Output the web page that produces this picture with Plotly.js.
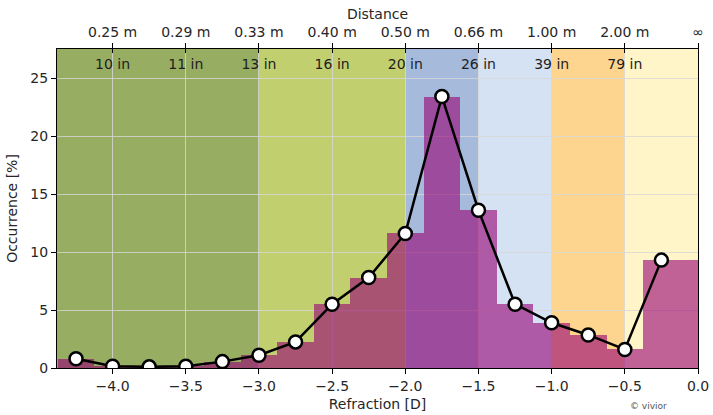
<!DOCTYPE html>
<html>
<head>
<meta charset="utf-8">
<script src="https://cdn.plot.ly/plotly-3.0.1.min.js"></script>
<style>html,body{margin:0;padding:0;background:#fff;}#chart{width:713px;height:415px;}</style>
</head>
<body>
<div id="chart"></div>
<script>
// Data
const refraction = [-4.25, -4.0, -3.75, -3.5, -3.25, -3.0, -2.75, -2.5, -2.25, -2.0, -1.75, -1.5, -1.25, -1.0, -0.75, -0.5, -0.25];
const occurrence = [0.8, 0.15, 0.1, 0.15, 0.55, 1.1, 2.25, 5.5, 7.8, 11.6, 23.4, 13.6, 5.5, 3.9, 2.85, 1.6, 9.3];
// histogram bars (last bin at 0.0 D, half visible)
const barRefraction = [-4.25, -4.0, -3.75, -3.5, -3.25, -3.0, -2.75, -2.5, -2.25, -2.0, -1.75, -1.5, -1.25, -1.0, -0.75, -0.5, -0.25, 0.0];
const barOccurrence = [0.8, 0.15, 0.1, 0.15, 0.55, 1.1, 2.25, 5.5, 7.8, 11.6, 23.4, 13.6, 5.5, 3.9, 2.85, 1.6, 9.3, 9.3];

const tickDiopters = [-4.0, -3.5, -3.0, -2.5, -2.0, -1.5, -1.0, -0.5, 0.0];
const distanceLabels = ['0.25 m', '0.29 m', '0.33 m', '0.40 m', '0.50 m', '0.66 m', '1.00 m', '2.00 m', '\u221e'];
const inchDiopters = [-4.0, -3.5, -3.0, -2.5, -2.0, -1.5, -1.0, -0.5];
const inchLabels = ['10 in', '11 in', '13 in', '16 in', '20 in', '26 in', '39 in', '79 in'];

// Background zones [from, to, colour]
const zoneStart = [-4.38, -3.0, -2.0, -1.5, -1.0, -0.5];
const zoneEnd   = [-3.0, -2.0, -1.5, -1.0, -0.5, 0.0];
const zoneColor = ['#96ad62', '#c1cf6f', '#a6bbdc', '#d4e2f4', '#fdd58f', '#fff5c9'];

const xRange = [-4.38, 0.0];
const font = {family: 'DejaVu Sans, sans-serif', size: 14, color: '#262626'};

const shapes = zoneStart.map((s, i) => ({
  type: 'rect', xref: 'x', yref: 'paper', x0: s, x1: zoneEnd[i], y0: 0, y1: 1,
  fillcolor: zoneColor[i], line: {width: 0}, layer: 'below'
}));

const traces = [
  {
    type: 'bar', x: barRefraction, y: barOccurrence, width: 0.25,
    marker: {color: 'rgba(150,0,115,0.6)', line: {width: 0}},
    hoverinfo: 'skip', showlegend: false
  },
  {
    type: 'scatter', mode: 'lines+markers', x: refraction, y: occurrence,
    line: {color: '#000', width: 2.5},
    marker: {symbol: 'circle', size: 13, color: '#fff', line: {color: '#000', width: 2.5}},
    showlegend: false
  },
  {type: 'scatter', x: tickDiopters, y: tickDiopters.map(() => null), xaxis: 'x2', hoverinfo: 'skip', showlegend: false},
  {type: 'scatter', x: inchDiopters, y: inchDiopters.map(() => null), xaxis: 'x3', hoverinfo: 'skip', showlegend: false}
];

const layout = {
  width: 713, height: 415,
  margin: {l: 57, r: 15, t: 49, b: 47},
  paper_bgcolor: '#fff', plot_bgcolor: '#fff',
  font: font,
  bargap: 0,
  shapes: shapes,
  xaxis: {
    range: xRange, tickvals: tickDiopters, tickformat: '.1f',
    ticks: 'outside', ticklen: 5, tickwidth: 1, tickcolor: '#000',
    showline: true, linecolor: '#000', linewidth: 1, mirror: false,
    showgrid: true, gridcolor: 'rgba(215,215,215,0.8)', gridwidth: 1,
    zeroline: false,
    title: {text: 'Refraction [D]', font: font, standoff: 6}
  },
  xaxis2: {
    overlaying: 'x', side: 'top', anchor: 'y', range: xRange,
    tickvals: tickDiopters, ticktext: distanceLabels,
    ticks: 'outside', ticklen: 5, tickwidth: 1, tickcolor: '#000',
    showline: true, linecolor: '#000', linewidth: 1,
    showgrid: false, zeroline: false,
    title: {text: 'Distance', font: font, standoff: 1}
  },
  xaxis3: {
    overlaying: 'x', side: 'top', anchor: 'y', range: xRange,
    tickvals: inchDiopters, ticktext: inchLabels,
    ticks: 'inside', ticklen: 4, tickwidth: 1, tickcolor: '#000',
    ticklabelposition: 'inside', ticklabelstandoff: 6,
    tickfont: {family: 'DejaVu Sans, sans-serif', size: 14, color: '#1e1e1e'},
    showline: false, showgrid: false, zeroline: false
  },
  yaxis: {
    range: [0, 27.5], tickvals: [0, 5, 10, 15, 20, 25],
    ticks: 'outside', ticklen: 5, tickwidth: 1, tickcolor: '#000',
    showline: true, linecolor: '#000', linewidth: 1, mirror: true,
    showgrid: true, gridcolor: 'rgba(215,215,215,0.8)', gridwidth: 1,
    zeroline: false,
    title: {text: 'Occurrence [%]', font: font, standoff: 9}
  },
  annotations: [{
    text: '\u00a9 vivior', xref: 'paper', yref: 'paper', x: 0.922, y: -0.119,
    xanchor: 'center', yanchor: 'middle',
    showarrow: false, font: {family: 'DejaVu Sans, sans-serif', size: 9, color: '#555'}
  }]
};

Plotly.newPlot('chart', traces, layout, {displayModeBar: false, staticPlot: true});
</script>
</body>
</html>
